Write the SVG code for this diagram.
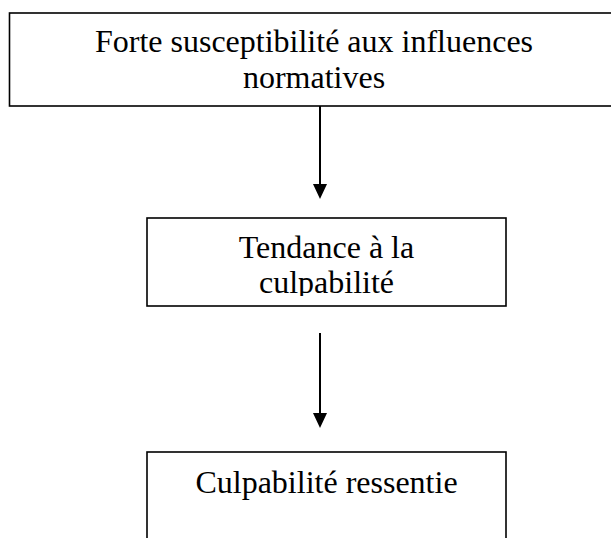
<svg xmlns="http://www.w3.org/2000/svg" width="611" height="538" viewBox="0 0 611 538">
  <style>
    .box { fill: #ffffff; stroke: #000000; stroke-width: 1.6; }
    .lbl { font-family: "Liberation Serif", "Times New Roman", serif; font-size: 32px; fill: #000000; text-anchor: middle; }
    .conn { stroke: #000000; stroke-width: 2; fill: none; }
    .head { fill: #000000; }
  </style>
  <defs>
    <clipPath id="clip2">
      <rect x="147" y="218" width="359" height="78"/>
    </clipPath>
  </defs>
  <rect width="611" height="538" fill="#ffffff"/>
  <g id="node1">
    <rect class="box" x="9.5" y="13" width="612" height="93"/>
    <text class="lbl" x="314" y="52">Forte susceptibilité aux influences</text>
    <text class="lbl" x="314" y="88">normatives</text>
  </g>
  <g id="node2">
    <rect class="box" x="147" y="218" width="359" height="88"/>
    <g clip-path="url(#clip2)">
      <text class="lbl" x="326.5" y="258">Tendance à la</text>
      <text class="lbl" x="326.5" y="293">culpabilité</text>
    </g>
  </g>
  <g id="node3">
    <rect class="box" x="147" y="452" width="359" height="110"/>
    <text class="lbl" x="326.5" y="493">Culpabilité ressentie</text>
  </g>
  <g id="connectors">
    <line class="conn" x1="320" y1="106" x2="320" y2="186"/>
    <polygon class="head" points="313,184 327,184 320,199"/>
    <line class="conn" x1="320" y1="333" x2="320" y2="415"/>
    <polygon class="head" points="313,413 327,413 320,428"/>
  </g>
</svg>
